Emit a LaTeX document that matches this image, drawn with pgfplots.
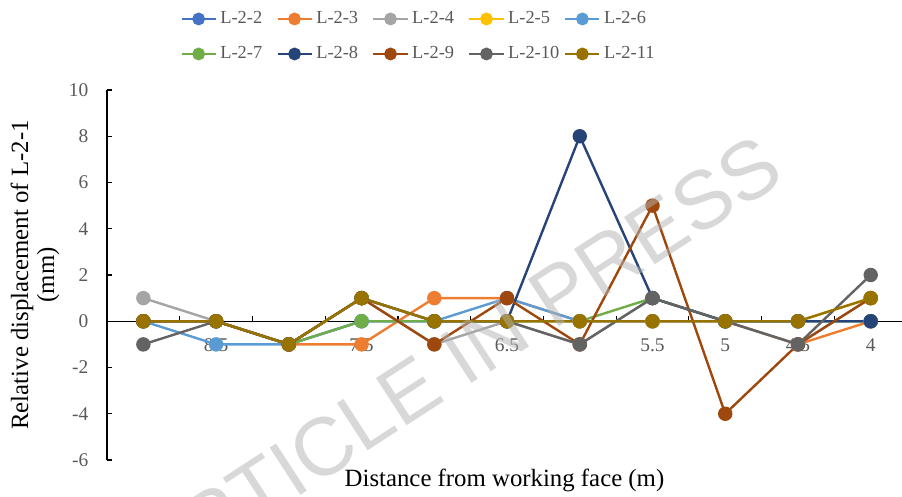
\documentclass[border=0pt]{standalone}
\usepackage{fontspec}
\setmainfont{Liberation Serif}
\newfontfamily\wmfont{Liberation Sans}
\usepackage{pgfplots}
\pgfplotsset{compat=1.18}
\definecolor{cA}{HTML}{4472C4}
\definecolor{cB}{HTML}{ED7D31}
\definecolor{cC}{HTML}{A5A5A5}
\definecolor{cD}{HTML}{FFC000}
\definecolor{cE}{HTML}{5B9BD5}
\definecolor{cF}{HTML}{70AD47}
\definecolor{cG}{HTML}{264478}
\definecolor{cH}{HTML}{9E480E}
\definecolor{cI}{HTML}{636363}
\definecolor{cJ}{HTML}{997300}
\definecolor{tickgray}{HTML}{595959}
\begin{document}
\begin{tikzpicture}
\begin{axis}[name=ax, scale only axis, width=397.5pt, height=185pt,
  xmin=-0.5, xmax=10.43, ymin=-6, ymax=10,
  axis y line=left, axis x line=middle,
  axis line style={-, black, line width=0.6pt},
  tick align=inside, major tick length=2.75pt, minor tick length=2.5pt,
  xtick={0,...,10}, xticklabels={9,8.5,8,7.5,7,6.5,6,5.5,5,4.5,4},
  minor xtick={0.5,1.5,...,9.5},
  major x tick style={draw=none},
  ytick={-6,-4,...,10},
  hide obscured y ticks=false, hide obscured x ticks=false,
  tick style={black, line width=0.6pt},
  ticklabel style={font=\fontsize{9.7}{11}\selectfont, text=tickgray},
  /pgf/number format/assume math mode=true,
  xticklabel style={yshift=-5pt},
  yticklabel style={xshift=-5.8pt},
  xlabel={Distance from working face (m)},
  ylabel={Relative displacement of L-2-1\\(mm)},
  xlabel style={at={(axis description cs:0.5,-0.054)}, anchor=center, font=\fontsize{12.4}{13}\selectfont},
  ylabel style={at={(axis description cs:-0.0906,0.5)}, anchor=center, align=center, font=\fontsize{12.4}{13}\selectfont},
  legend columns=5, legend cell align=left,
  legend style={at={(axis description cs:0.0918,1.216)}, anchor=north west, draw=none, fill=none,
    inner sep=0pt, column sep=0pt, row sep=9pt, font=\fontsize{9.2}{11}\selectfont, text=tickgray,
    nodes={inner xsep=1.7pt, inner ysep=0pt, text width=26.3pt, align=left, text height=6.5pt, text depth=2pt}},
  legend image post style={mark size=2.6pt},
  every axis plot/.append style={line width=1.2pt, mark=*, mark size=3pt, mark options={solid}},
  clip=false,
]
\addplot[color=cA] coordinates {(0,0) (1,0) (2,-1) (3,0) (4,0) (5,0) (6,0) (7,0) (8,0) (9,0) (10,0)};
\addlegendentry{L-2-2}
\addplot[color=cB] coordinates {(0,0) (1,0) (2,-1) (3,-1) (4,1) (5,1) (6,0) (7,0) (8,0) (9,-1) (10,0)};
\addlegendentry{L-2-3}
\addplot[color=cC] coordinates {(0,1) (1,0) (2,-1) (3,1) (4,-1) (5,0) (6,-1) (7,1) (8,0) (9,-1) (10,1)};
\addlegendentry{L-2-4}
\addplot[color=cD] coordinates {(0,0) (1,0) (2,-1) (3,1) (4,0) (5,0) (6,0) (7,0) (8,0) (9,0) (10,1)};
\addlegendentry{L-2-5}
\addplot[color=cE] coordinates {(0,0) (1,-1) (2,-1) (3,0) (4,0) (5,1) (6,0) (7,0) (8,0) (9,0) (10,0)};
\addlegendentry{L-2-6}
\addplot[color=cF] coordinates {(0,0) (1,0) (2,-1) (3,0) (4,0) (5,0) (6,0) (7,1) (8,0) (9,0) (10,0)};
\addlegendentry{L-2-7}
\addplot[color=cG] coordinates {(0,0) (1,0) (2,-1) (3,1) (4,0) (5,0) (6,8) (7,1) (8,0) (9,0) (10,0)};
\addlegendentry{L-2-8}
\addplot[color=cH] coordinates {(0,0) (1,0) (2,-1) (3,1) (4,-1) (5,1) (6,-1) (7,5) (8,-4) (9,-1) (10,1)};
\addlegendentry{L-2-9}
\addplot[color=cI] coordinates {(0,-1) (1,0) (2,-1) (3,1) (4,0) (5,0) (6,-1) (7,1) (8,0) (9,-1) (10,2)};
\addlegendentry{L-2-10}
\addplot[color=cJ] coordinates {(0,0) (1,0) (2,-1) (3,1) (4,0) (5,0) (6,0) (7,0) (8,0) (9,0) (10,1)};
\addlegendentry{L-2-11}
\end{axis}
\node[rotate=33, font=\wmfont\fontsize{41}{41}\selectfont, text=black!30, opacity=0.5, inner sep=0pt]
  at ([shift={(175pt,50pt)}]ax.south west) {ARTICLE IN PRESS};
\pgfresetboundingbox
\path (ax.south west) ++(-53.5pt,-18.5pt) rectangle ++(451pt,248.5pt);
\end{tikzpicture}
\end{document}
